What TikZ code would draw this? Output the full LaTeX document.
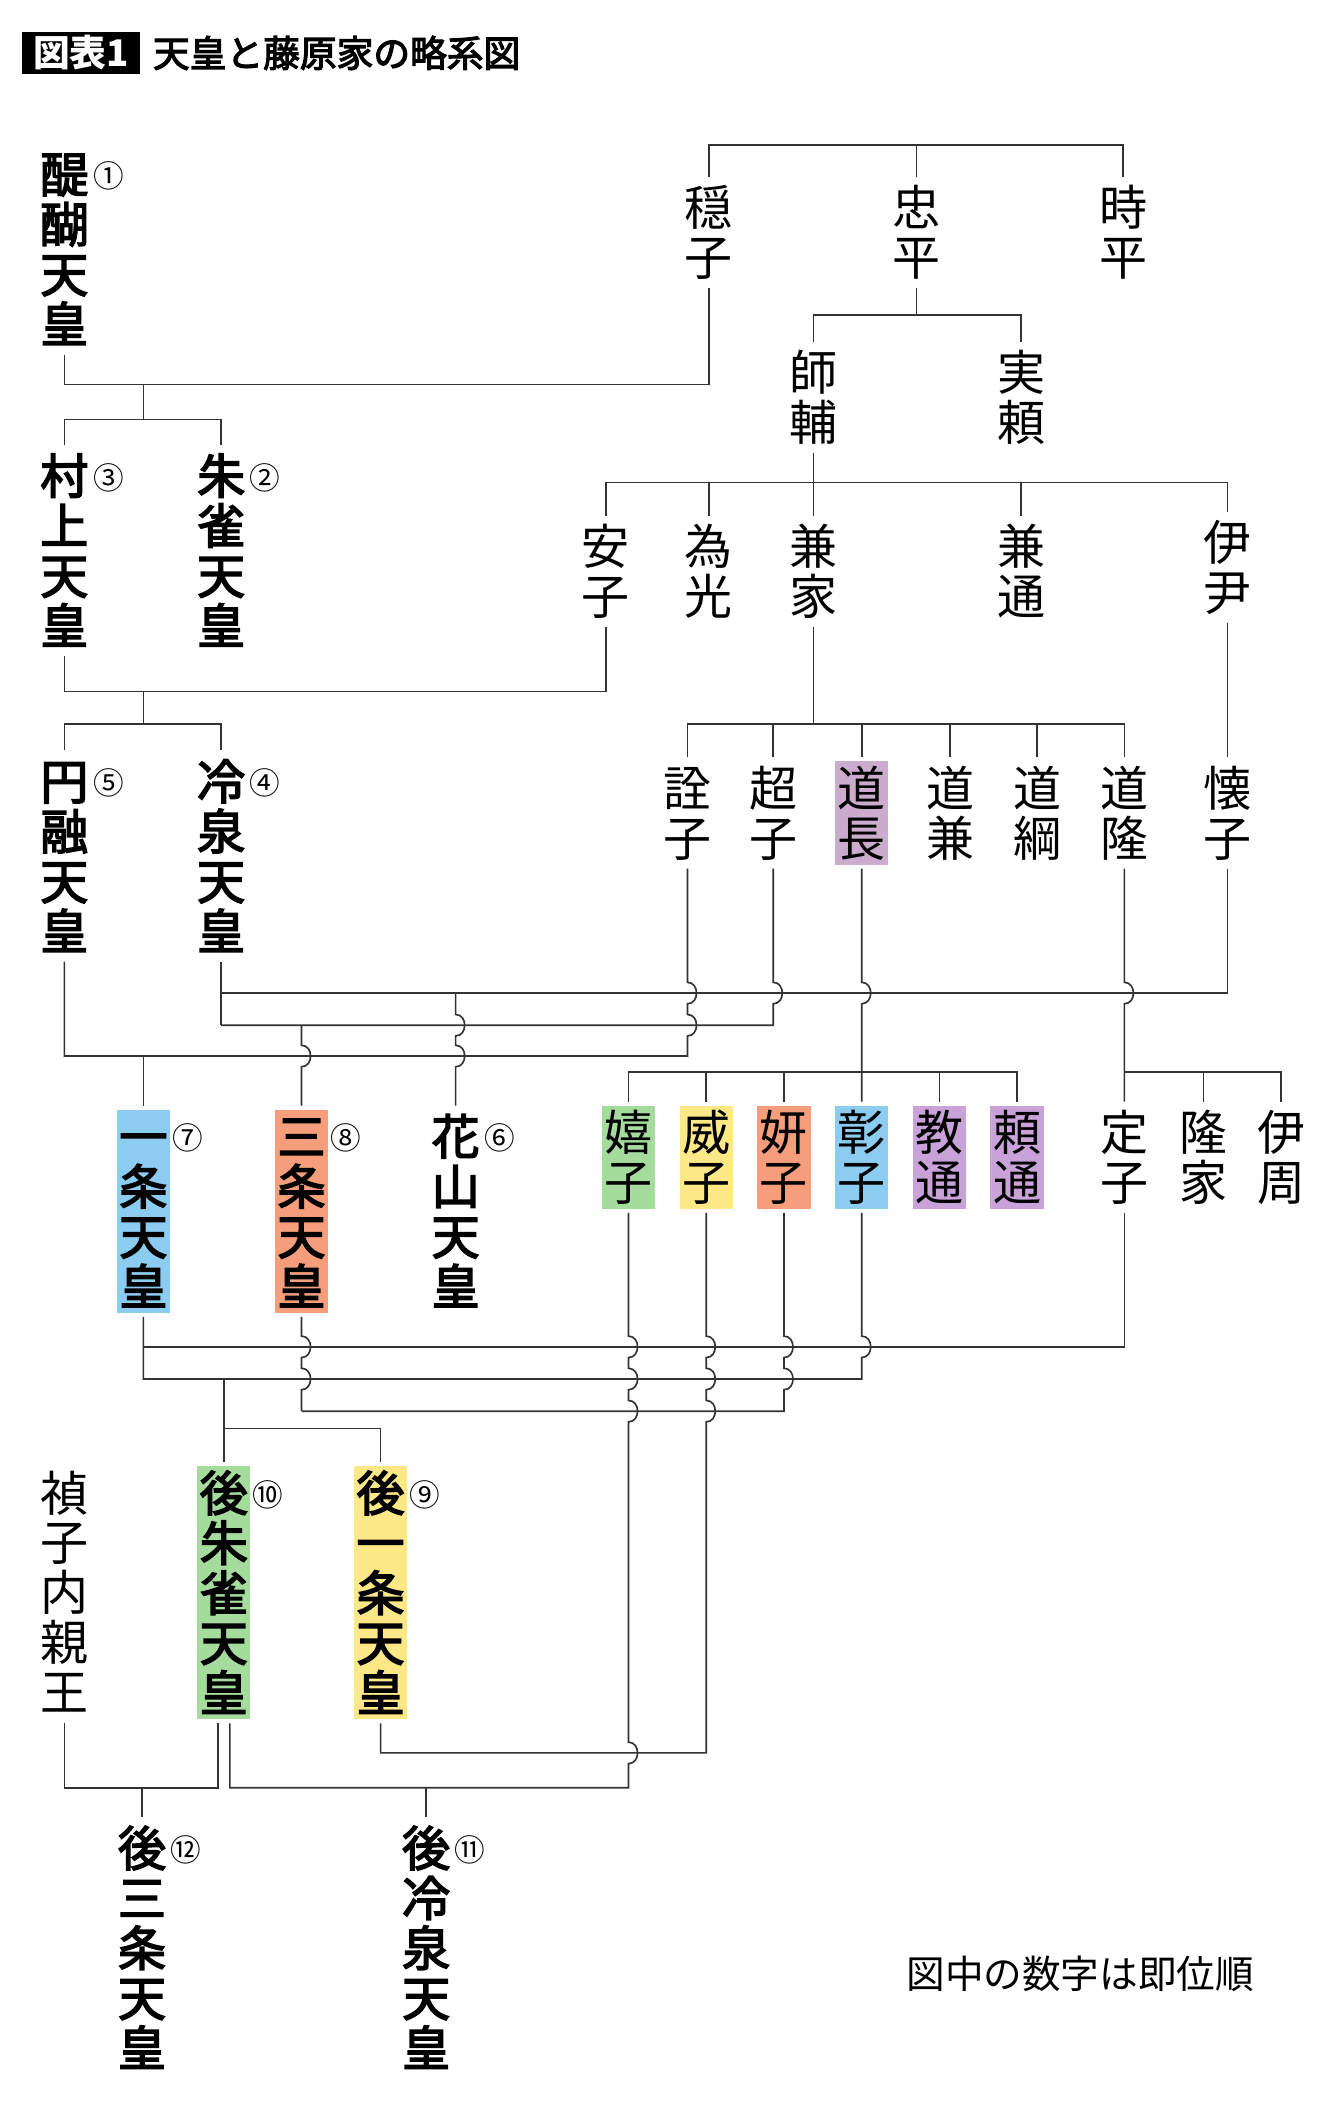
\documentclass[tikz,border=0pt]{standalone}
\usepackage{fontspec}
\newfontfamily\jp{Noto Sans CJK JP}
\newfontfamily\jpm{Noto Sans CJK JP}[FakeBold=3.2]
\definecolor{hlblue}{RGB}{140,204,240}
\definecolor{hlorange}{RGB}{246,158,124}
\definecolor{hlgreen}{RGB}{166,219,158}
\definecolor{hlyellow}{RGB}{253,232,135}
\definecolor{hlpurple}{RGB}{200,162,216}
\definecolor{hlmauve}{RGB}{203,172,206}
\usetikzlibrary{positioning,calc}

\newcommand\tate[1]{\vbox{\baselineskip=1.04em\lineskiplimit=-1em\tateloop#1\relax}}
\def\tateloop#1{\ifx\relax#1\else\hbox to 1em{\hss\rule[-0.12em]{0pt}{1em}#1\hss}\expandafter\tateloop\fi}
\newcommand\hop{.. controls +(9,0) and +(9,0) .. ++(0,16)}

\begin{document}
\begin{tikzpicture}[
            x=0.02cm, y=-0.02cm,
            tenno/.style={anchor=north, inner sep=1.13pt, outer sep=1.7pt,
                font=\jpm\fontsize{20.4pt}{21.3pt}\selectfont},
            kuge/.style={anchor=north, inner sep=1.13pt, outer sep=1.7pt,
                font=\jp\fontsize{20.4pt}{21.3pt}\selectfont},
            reignlbl/.style={anchor=north west, inner sep=0pt, xshift=-1pt, yshift=-7.6pt,
                font=\jp\fontsize{13pt}{15pt}\selectfont},
            reign/.style={label={[reignlbl]north east:#1}},
            kei/.style={draw=black!80, line width=0.7pt},
        ]

            \useasboundingbox (0,0) rectangle (1000,1570);

            \node [fill=black, text=white, inner xsep=4.8pt, inner ysep=0pt, minimum height=17.6pt,
                font=\jp\bfseries\fontsize{15.6pt}{18pt}\selectfont] (zuhyo) at (60.5,39.5) {図表1};
            \node [inner sep=0pt, font=\jpm\fontsize{15.6pt}{18pt}\selectfont] (title) [ right= 5pt of zuhyo ] {天皇と藤原家の略系図};

            \foreach \lv/\y in {Top/108, Daigo/287, Suzaku/313, Tada/235, Moro/360, Mura/516, Kane/540,
                    A/741, B/765, C/788, Naga/800, D/1005, E/1029, F/1053, Go/1066, G/1308, H/1334} {
                \coordinate (lv\lv) at (0,\y);
                \coordinate (hp\lv) at (0,\y-8);
            }
            \coordinate (dDaigo) at (107,287);
            \coordinate (dMura)  at (107,516);

            \node [tenno, reign=①] (daigo) at (48,107) {\tate{醍醐天皇}};
            \node [kuge] (onshi)    at (529,132) {\tate{穏子}};
            \node [kuge] (tadahira) at (684,132) {\tate{忠平}};
            \node [kuge] (tokihira) at (838,132) {\tate{時平}};
            \draw [kei] (onshi.north) |- (tokihira.north |- lvTop) -- (tokihira.north);
            \draw [kei] (tadahira.north) -- (tadahira.north |- lvTop);

            \node [kuge] (morosuke) at (607,255) {\tate{師輔}};
            \node [kuge] (saneyori) at (762,255) {\tate{実頼}};
            \draw [kei] (tadahira.south) -- (tadahira.south |- lvTada);
            \draw [kei] (morosuke.north) |- (saneyori.north |- lvTada) -- (saneyori.north);

            \node [tenno, reign=③] (murakami) at (48,332)  {\tate{村上天皇}};
            \node [tenno, reign=②] (suzaku)   at (165,332) {\tate{朱雀天皇}};
            \draw [kei] (daigo.south) |- (onshi.south |- lvDaigo) -- (onshi.south);
            \draw [kei] (dDaigo) -- (dDaigo |- lvSuzaku);
            \draw [kei] (murakami.north) |- (suzaku.north |- lvSuzaku) -- (suzaku.north);

            \node [kuge] (anshi)     at (452,385) {\tate{安子}};
            \node [kuge] (tamemitsu) at (529,385) {\tate{為光}};
            \node [kuge] (kaneie)    at (607,385) {\tate{兼家}};
            \node [kuge] (kanemichi) at (762,385) {\tate{兼通}};
            \node [kuge] (koretada)  at (916,382) {\tate{伊尹}};
            \draw [kei] (morosuke.south) -- (kaneie.north);
            \draw [kei] (anshi.north) |- (koretada.north |- lvMoro) -- (koretada.north);
            \foreach \n in {tamemitsu, kanemichi} \draw [kei] (\n.north) -- (\n.north |- lvMoro);

            \node [tenno, reign=⑤] (enyu)   at (48,560)  {\tate{円融天皇}};
            \node [tenno, reign=④] (reizei) at (165,560) {\tate{冷泉天皇}};
            \draw [kei] (murakami.south) |- (anshi.south |- lvMura) -- (anshi.south);
            \draw [kei] (dMura) -- (dMura |- lvKane);
            \draw [kei] (enyu.north) |- (reizei.north |- lvKane) -- (reizei.north);

            \node [kuge] (senshi)     at (513,565) {\tate{詮子}};
            \node [kuge] (choshi)     at (577,565) {\tate{超子}};
            \node [kuge, fill=hlmauve] (michinaga) at (643,565) {\tate{道長}};
            \node [kuge] (michikane)  at (709,565) {\tate{道兼}};
            \node [kuge] (michitsuna) at (774,565) {\tate{道綱}};
            \node [kuge] (michitaka)  at (839,565) {\tate{道隆}};
            \node [kuge] (kaishi)     at (916,565) {\tate{懐子}};
            \draw [kei] (kaneie.south) -- (kaneie.south |- lvKane);
            \draw [kei] (senshi.north) |- (michitaka.north |- lvKane) -- (michitaka.north);
            \foreach \n in {choshi, michinaga, michikane, michitsuna} \draw [kei] (\n.north) -- (\n.north |- lvKane);
            \draw [kei] (koretada.south) -- (kaishi.north);

            \draw [kei] (kaishi.south) |- (reizei.south |- lvA);
            \draw [kei] (reizei.south) -- (reizei.south |- lvB);
            \draw [kei] (choshi.south) -- (choshi.south |- hpA) \hop |- (reizei.south |- lvB);
            \draw [kei] (senshi.south) -- (senshi.south |- hpA) \hop -- (senshi.south |- hpB) \hop
                |- (enyu.south |- lvC) -- (enyu.south);

            \node [tenno, reign=⑦, fill=hlblue]   (ichijo) at (107,825) {\tate{一条天皇}};
            \node [tenno, reign=⑧, fill=hlorange] (sanjo)  at (225,825) {\tate{三条天皇}};
            \node [tenno, reign=⑥]                (kazan)  at (340,825) {\tate{花山天皇}};
            \draw [kei] (kazan.north |- lvA) -- (kazan.north |- hpB) \hop -- (kazan.north |- hpC) \hop -- (kazan.north);
            \draw [kei] (sanjo.north |- lvB) -- (sanjo.north |- hpC) \hop -- (sanjo.north);
            \draw [kei] (ichijo.north |- lvC) -- (ichijo.north);

            \node [kuge, fill=hlgreen]  (kishi)     at (469,822) {\tate{嬉子}};
            \node [kuge, fill=hlyellow] (ishi)      at (527,822) {\tate{威子}};
            \node [kuge, fill=hlorange] (kenshi)    at (585,822) {\tate{妍子}};
            \node [kuge, fill=hlblue]   (shoshi)    at (643,822) {\tate{彰子}};
            \node [kuge, fill=hlpurple] (norimichi) at (701,822) {\tate{教通}};
            \node [kuge, fill=hlpurple] (yorimichi) at (759,822) {\tate{頼通}};
            \draw [kei] (michinaga.south) -- (michinaga.south |- hpA) \hop -- (shoshi.north);
            \draw [kei] (kishi.north) |- (yorimichi.north |- lvNaga) -- (yorimichi.north);
            \foreach \n in {ishi, kenshi, norimichi} \draw [kei] (\n.north) -- (\n.north |- lvNaga);

            \node [kuge] (teishi)    at (839,822) {\tate{定子}};
            \node [kuge] (takaie)    at (898,822) {\tate{隆家}};
            \node [kuge] (korechika) at (956,822) {\tate{伊周}};
            \draw [kei] (michitaka.south) -- (michitaka.south |- hpA) \hop -- (teishi.north);
            \draw [kei] (teishi.north |- lvNaga) -| (korechika.north);
            \draw [kei] (takaie.north) -- (takaie.north |- lvNaga);

            \draw [kei] (teishi.south) |- (ichijo.south |- lvD);
            \draw [kei] (shoshi.south) -- (shoshi.south |- hpD) \hop |- (ichijo.south |- lvE) -- (ichijo.south);
            \draw [kei] (sanjo.south) -- (sanjo.south |- hpD) \hop -- (sanjo.south |- hpE) \hop -- (sanjo.south |- lvF);
            \draw [kei] (kenshi.south) -- (kenshi.south |- hpD) \hop -- (kenshi.south |- hpE) \hop |- (sanjo.south |- lvF);

            \node [kuge]                          (teishinai) at (48,1091)  {\tate{禎子内親王}};
            \node [tenno, reign=⑩, fill=hlgreen]  (gosuzaku)  at (167,1091) {\tate{後朱雀天皇}};
            \node [tenno, reign=⑨, fill=hlyellow] (goichijo)  at (284,1091) {\tate{後一条天皇}};
            \coordinate (gsL) at ($(gosuzaku.south)+(-4.5,0)$);
            \coordinate (gsR) at ($(gosuzaku.south)+(4.5,0)$);
            \draw [kei] (gosuzaku.north |- lvE) -- (gosuzaku.north);
            \draw [kei] (gosuzaku.north |- lvGo) -| (goichijo.north);

            \draw [kei] (ishi.south) -- (ishi.south |- hpD) \hop -- (ishi.south |- hpE) \hop -- (ishi.south |- hpF) \hop
                |- (goichijo.south |- lvG) -- (goichijo.south);
            \draw [kei] (kishi.south) -- (kishi.south |- hpD) \hop -- (kishi.south |- hpE) \hop -- (kishi.south |- hpF) \hop
                -- (kishi.south |- hpG) \hop |- (gsR |- lvH) -- (gsR);
            \draw [kei] (teishinai.south) |- (gsL |- lvH) -- (gsL);

            \node [tenno, reign=⑫] (gosanjo)  at (106,1356) {\tate{後三条天皇}};
            \node [tenno, reign=⑪] (goreizei) at (318,1356) {\tate{後冷泉天皇}};
            \draw [kei] (gosanjo.north) -- (gosanjo.north |- lvH);
            \draw [kei] (goreizei.north) -- (goreizei.north |- lvH);

            \node [anchor=west, inner sep=0pt, font=\jp\fontsize{16.4pt}{18pt}\selectfont] (chu) at (676,1473) {図中の数字は即位順};

        \end{tikzpicture}
\end{document}
